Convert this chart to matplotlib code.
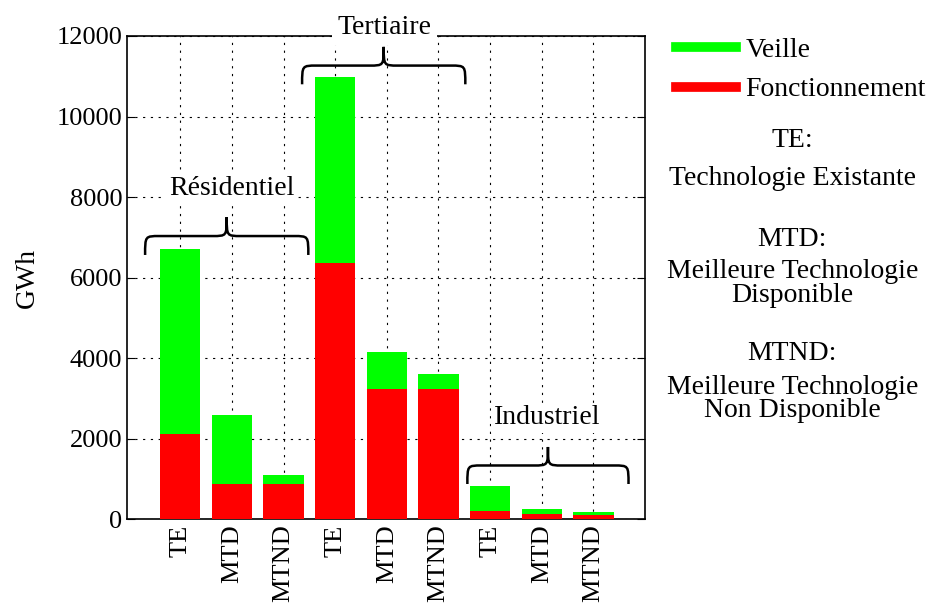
import matplotlib.pyplot as plt
from matplotlib.path import Path
from matplotlib.patches import PathPatch
from matplotlib.lines import Line2D

plt.rcParams['font.family'] = ['Liberation Serif', 'DejaVu Serif']

# donnees (GWh)
labels = ['TE', 'MTD', 'MTND', 'TE', 'MTD', 'MTND', 'TE', 'MTD', 'MTND']
fonctionnement = [2110, 870, 870, 6350, 3220, 3220, 190, 120, 100]
veille = [4590, 1710, 220, 4620, 920, 380, 630, 130, 70]
groupes = ['Résidentiel', 'Tertiaire', 'Industriel']

vert = '#00ff00'
rouge = '#ff0000'
fs = 20

fig = plt.figure(figsize=(9.32, 6.04), dpi=100)
ax = fig.add_axes([0.1363, 0.1407, 0.5558, 0.7997])

x = list(range(len(labels)))
ax.bar(x, fonctionnement, width=0.78, color=rouge, zorder=3)
ax.bar(x, veille, width=0.78, bottom=fonctionnement, color=vert, zorder=3)

ax.set_xlim(-1.03, 9.0)
ax.set_ylim(0, 12000)
ax.set_yticks(range(0, 12001, 2000))
ax.set_xticks(x)
ax.set_xticklabels(labels, rotation=90, fontsize=19)
ax.tick_params(axis='y', labelsize=19, direction='in', right=True, length=6)
ax.tick_params(axis='x', direction='in', length=0, pad=4)
ax.grid(True, color='black', linestyle=(0, (2, 5)), linewidth=0.8, zorder=1)
ax.set_ylabel('GWh', fontsize=fs, labelpad=12)
for s in ax.spines.values():
    s.set_linewidth(1.2)


def accolade(ax, x0, x1, ybas, yhaut):
    xm = (x0 + x1) / 2
    ymid = ybas + (yhaut - ybas) * 0.5
    rx = 0.28
    verts = [(x0, ybas), (x0, ymid), (x0, ymid), (x0 + rx, ymid),
             (xm - rx, ymid), (xm, ymid), (xm, ymid), (xm, yhaut),
             (xm, ymid), (xm, ymid), (xm + rx, ymid),
             (x1 - rx, ymid), (x1, ymid), (x1, ymid), (x1, ybas)]
    codes = [Path.MOVETO, Path.CURVE4, Path.CURVE4, Path.CURVE4,
             Path.LINETO, Path.CURVE4, Path.CURVE4, Path.CURVE4,
             Path.CURVE4, Path.CURVE4, Path.CURVE4,
             Path.LINETO, Path.CURVE4, Path.CURVE4, Path.CURVE4]
    ax.add_patch(PathPatch(Path(verts, codes), fill=False, lw=1.8,
                           color='black', zorder=5, clip_on=False))


accolade(ax, -0.68, 2.48, 6560, 7500)
accolade(ax, 2.36, 5.52, 10800, 11730)
accolade(ax, 5.56, 8.68, 870, 1790)

ax.text(1.0, 8200, groupes[0], ha='center', va='center', fontsize=fs,
        zorder=6, bbox=dict(facecolor='white', edgecolor='none', pad=2))
ax.text(3.95, 12220, groupes[1], ha='center', va='center', fontsize=fs,
        zorder=6, clip_on=False,
        bbox=dict(facecolor='white', edgecolor='none', pad=4))
ax.text(7.1, 2510, groupes[2], ha='center', va='center', fontsize=fs,
        zorder=6, bbox=dict(facecolor='white', edgecolor='none', pad=2))

handles = [Line2D([], [], color=vert, lw=7), Line2D([], [], color=rouge, lw=7)]
fig.legend(handles, ['Veille', 'Fonctionnement'], loc='upper left',
           bbox_to_anchor=(0.7253, 0.938), frameon=False, fontsize=fs,
           handlelength=2.16, handletextpad=0.35, labelspacing=0.5,
           borderpad=0, borderaxespad=0)

notes = [(0.768, 'TE:'), (0.705, 'Technologie Existante'),
         (0.603, 'MTD:'), (0.550, 'Meilleure Technologie'),
         (0.510, 'Disponible'), (0.414, 'MTND:'),
         (0.359, 'Meilleure Technologie'), (0.321, 'Non Disponible')]
for yy, t in notes:
    fig.text(0.850, yy, t, ha='center', va='center', fontsize=fs)

fig.savefig('out.png', dpi=100)
